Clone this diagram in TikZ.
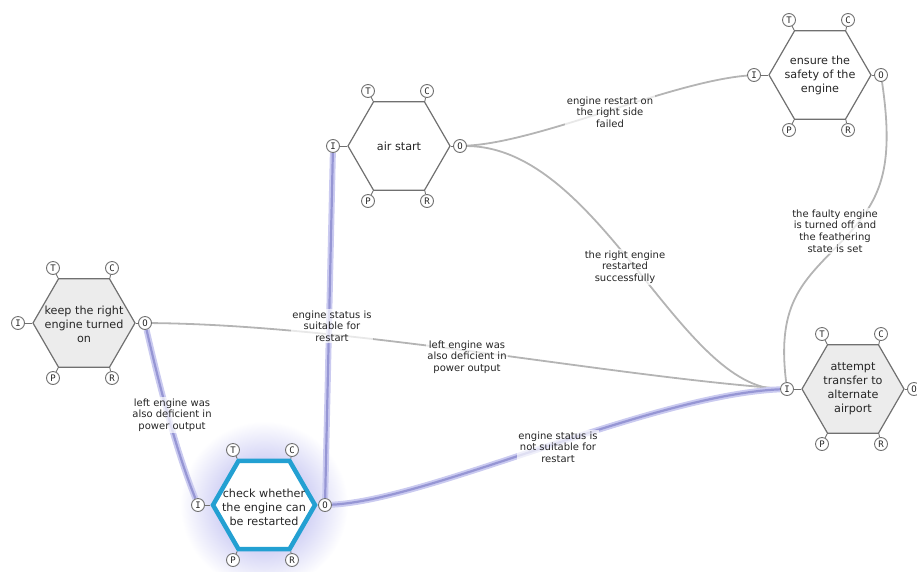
\documentclass[tikz,border=0pt]{standalone}
\usepackage{fontspec}
\setmainfont{DejaVu Sans}
\newfontfamily\portfont{DejaVu Sans Mono}
\usetikzlibrary{shapes.geometric}

\definecolor{hexline}{HTML}{707070}
\definecolor{hexfill}{HTML}{ECECEC}
\definecolor{txt}{HTML}{262626}
\definecolor{edgegray}{HTML}{B4B4B4}
\definecolor{selcyan}{HTML}{23A0D2}
\definecolor{selcore}{HTML}{9696D4}
\definecolor{selglow}{HTML}{CACAF0}
\definecolor{glowc}{HTML}{A0A0EA}

\pgfdeclarelayer{glowlayer}
\pgfdeclarelayer{edgelayer}
\pgfsetlayers{glowlayer,edgelayer,main}

\tikzset{
  hexa/.style={regular polygon, regular polygon sides=6, minimum size=102pt,
    inner sep=0pt, draw=hexline, line width=1.2pt, fill=white},
  hexgray/.style={hexa, fill=hexfill},
  hexsel/.style={hexa, draw=selcyan, line width=4.5pt},
  hexlabel/.style={align=center, text=txt, inner sep=0pt,
    font=\fontsize{11.2}{14}\selectfont},
  port/.style={circle, draw=hexline, fill=white, line width=0.9pt,
    minimum size=13pt, inner sep=0pt, text=txt,
    font=\portfont\fontsize{9}{9}\selectfont},
  portstub/.style={draw=hexline, line width=0.9pt},
  link/.style={draw=edgegray, line width=1.8pt},
  sellink/.style={draw=selcore, line width=2.2pt,
    preaction={draw=selglow, line width=6pt}},
  elabel/.style={align=center, fill=white, fill opacity=0.7, text opacity=1,
    inner sep=1.5pt, text=txt, font=\fontsize{10}{11.7}\selectfont}
}

% six connection ports round a hexagon: name, centre x, centre y
\newcommand\hexports[3]{%
  \node[port] (#1T) at (#2-31,#3-55) {T};
  \node[port] (#1C) at (#2+28,#3-55) {C};
  \node[port] (#1I) at (#2-66,#3) {I};
  \node[port] (#1O) at (#2+61,#3) {O};
  \node[port] (#1P) at (#2-31,#3+55) {P};
  \node[port] (#1R) at (#2+28,#3+55) {R};
  \begin{pgfonlayer}{edgelayer}
    \draw[portstub] (#1T) -- (#1.120);
    \draw[portstub] (#1C) -- (#1.60);
    \draw[portstub] (#1I) -- (#1.180);
    \draw[portstub] (#1O) -- (#1.0);
    \draw[portstub] (#1P) -- (#1.240);
    \draw[portstub] (#1R) -- (#1.300);
  \end{pgfonlayer}%
}

\begin{document}
\begin{tikzpicture}[x=1pt,y=-1pt]
\useasboundingbox (0,0) rectangle (917,571);

% hexagons
\node[hexgray] (h1) at (84,323) {};
\node[hexsel]  (h2) at (264,505) {};
\node[hexa]    (h3) at (399,146) {};
\node[hexa]    (h4) at (820,75) {};
\node[hexgray] (h5) at (853,389) {};

\node[hexlabel] (h1t) at (84,324) {keep the right\\engine turned\\on};
\node[hexlabel] (h2t) at (264,507) {check whether\\the engine can\\be restarted};
\node[hexlabel] (h3t) at (399,146) {air start};
\node[hexlabel] (h4t) at (820,75) {ensure the\\safety of the\\engine};
\node[hexlabel] (h5t) at (853,389) {attempt\\transfer to\\alternate\\airport};

\hexports{h1}{84}{323}
\hexports{h2}{264}{505}
\hexports{h3}{399}{146}
\hexports{h4}{820}{75}
\hexports{h5}{853}{389}

% glow round the selected step
\begin{pgfonlayer}{glowlayer}
  \shade[inner color=glowc, outer color=white] (264,505) circle (84);
\end{pgfonlayer}

% connectors
\begin{pgfonlayer}{edgelayer}
  \path[link] (h1O) .. controls (350,325) and (600,375) .. (h5I);
  \path[link] (h3O) .. controls (540,142) and (670,82) .. (h4I);
  \path[link] (h3O) .. controls (600,147) and (680,390) .. (h5I);
  \path[link] (h4O) .. controls (895,170) and (880,200) .. (845,238)
                    .. controls (805,280) and (776,300) .. (h5I);
  \path[sellink] (h1O) .. controls (165,410) and (180,460) .. (h2I);
  \path[sellink] (h2O) -- (h3I);
  \path[sellink] (h2O) .. controls (430,500) and (650,395) .. (h5I);
\end{pgfonlayer}

% connector labels
\node[elabel] (l1) at (610,112) {engine restart on\\the right side\\failed};
\node[elabel] (l2) at (625,267) {the right engine\\restarted\\successfully};
\node[elabel] (l3) at (835,231) {the faulty engine\\is turned off and\\the feathering\\state is set};
\node[elabel] (l4) at (332,326) {engine status is\\suitable for\\restart};
\node[elabel] (l5) at (467,357) {left engine was\\also deficient in\\power output};
\node[elabel] (l6) at (172,415) {left engine was\\also deficient in\\power output};
\node[elabel] (l7) at (558,447) {engine status is\\not suitable for\\restart};
\end{tikzpicture}
\end{document}
